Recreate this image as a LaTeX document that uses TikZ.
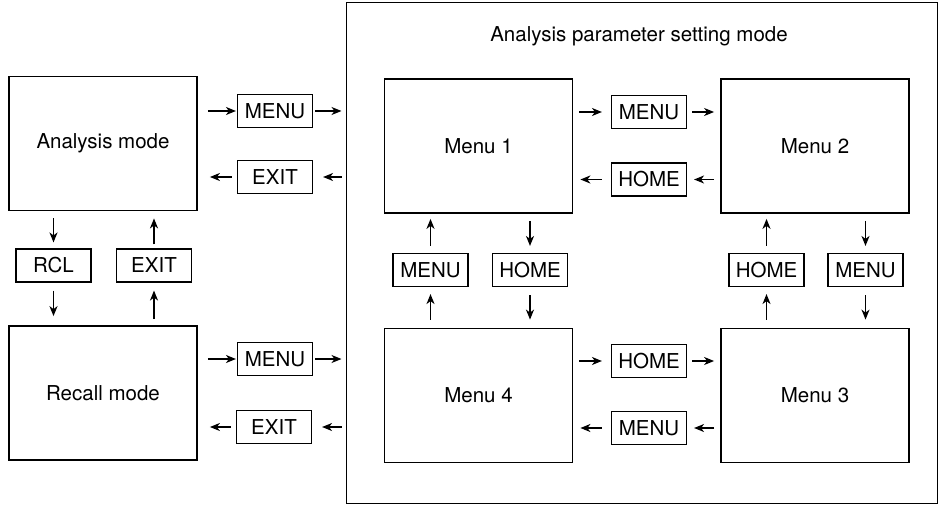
\documentclass[tikz,border=0pt]{standalone}
\usepackage{fontspec}
\setmainfont{TeX Gyre Heros}
\usetikzlibrary{arrows.meta}
\begin{document}
\begin{tikzpicture}[x=1pt,y=-1pt,
 font=\fontsize{20.5}{24}\selectfont,
 bigbox/.style={draw, line width=1.8pt, minimum width=188pt, minimum height=134pt, inner sep=0pt},
 keybox/.style={draw, line width=1.1pt, minimum width=75pt, minimum height=33pt, inner sep=0pt},
 frame/.style={draw, line width=1pt, minimum width=591pt, minimum height=500pt, inner sep=0pt},
 arr/.style={line width=1.3pt, -{Stealth[length=10pt,width=8pt,inset=3pt]}}
]
\useasboundingbox (0,0) rectangle (939,505);
% frame
\node[frame] (frame) at (641.5,253) {};
\node (title) at (639,36) {Analysis parameter setting mode};
% big boxes
\node[bigbox] (am) at (103,143.5) {Analysis mode};
\node[bigbox] (rm) at (103,393) {Recall mode};
\node[bigbox] (m1) at (478.5,146) {Menu 1};
\node[bigbox] (m2) at (815,146) {Menu 2};
\node[bigbox] (m4) at (478.5,395.5) {Menu 4};
\node[bigbox] (m3) at (815,395.5) {Menu 3};
% key boxes, left column
\node[keybox] (kMa) at (275,111) {MENU};
\node[keybox] (kEa) at (275,177) {EXIT};
\node[keybox] (kR) at (53.5,265.5) {RCL};
\node[keybox] (kEb) at (154,265.5) {EXIT};
\node[keybox] (kMb) at (275,359) {MENU};
\node[keybox] (kEc) at (274,427) {EXIT};
% key boxes, menus
\node[keybox] (kMm) at (649,112) {MENU};
\node[keybox] (kHm) at (649,179.5) {HOME};
\node[keybox] (kM1) at (430.5,270) {MENU};
\node[keybox] (kH1) at (530,270) {HOME};
\node[keybox] (kH2) at (766.5,270) {HOME};
\node[keybox] (kM2) at (865.5,270) {MENU};
\node[keybox] (kHb) at (649,361) {HOME};
\node[keybox] (kMc) at (649,428) {MENU};
% left column arrows
\draw[arr, shorten <=10pt, shorten >=1pt] (am.east |- kMa) -- (kMa.west);
\draw[arr, shorten <=2pt, shorten >=4pt] (kMa.east) -- (kMa -| frame.west);
\draw[arr, shorten <=4pt, shorten >=10pt] (kEa -| frame.west) -- (kEa.east);
\draw[arr, shorten <=5pt, shorten >=12pt] (kEa.west) -- (kEa -| am.east);
\draw[arr, shorten <=10pt, shorten >=1pt] (rm.east |- kMb) -- (kMb.west);
\draw[arr, shorten <=2pt, shorten >=4pt] (kMb.east) -- (kMb -| frame.west);
\draw[arr, shorten <=4pt, shorten >=10pt] (kEc -| frame.west) -- (kEc.east);
\draw[arr, shorten <=5pt, shorten >=12pt] (kEc.west) -- (kEc -| rm.east);
\draw[arr, shorten <=7pt, shorten >=6pt] (kR |- am.south) -- (kR.north);
\draw[arr, shorten <=8pt, shorten >=9pt] (kR.south) -- (kR |- rm.north);
\draw[arr, shorten <=6pt, shorten >=8pt] (kEb |- rm.north) -- (kEb.south);
\draw[arr, shorten <=4pt, shorten >=7pt] (kEb.north) -- (kEb |- am.south);
% middle column arrows
\draw[arr, shorten <=6pt, shorten >=9pt] (m1.east |- kMm) -- (kMm.west);
\draw[arr, shorten <=5pt, shorten >=6pt] (kMm.east) -- (kMm -| m2.west);
\draw[arr, shorten <=6pt, shorten >=7pt] (kHm -| m2.west) -- (kHm.east);
\draw[arr, shorten <=9pt, shorten >=7pt] (kHm.west) -- (kHm -| m1.east);
\draw[arr, shorten <=6pt, shorten >=9pt] (m4.east |- kHb) -- (kHb.west);
\draw[arr, shorten <=5pt, shorten >=6pt] (kHb.east) -- (kHb -| m3.west);
\draw[arr, shorten <=6pt, shorten >=7pt] (kMc -| m3.west) -- (kMc.east);
\draw[arr, shorten <=9pt, shorten >=7pt] (kMc.west) -- (kMc -| m4.east);
% vertical arrows under menus
\draw[arr, shorten <=7pt, shorten >=5pt] (kM1.north) -- (kM1 |- m1.south);
\draw[arr, shorten <=8pt, shorten >=7pt] (kM1 |- m4.north) -- (kM1.south);
\draw[arr, shorten <=7pt, shorten >=7pt] (kH1 |- m1.south) -- (kH1.north);
\draw[arr, shorten <=8pt, shorten >=8pt] (kH1.south) -- (kH1 |- m4.north);
\draw[arr, shorten <=7pt, shorten >=5pt] (kH2.north) -- (kH2 |- m2.south);
\draw[arr, shorten <=8pt, shorten >=7pt] (kH2 |- m3.north) -- (kH2.south);
\draw[arr, shorten <=7pt, shorten >=7pt] (kM2 |- m2.south) -- (kM2.north);
\draw[arr, shorten <=8pt, shorten >=8pt] (kM2.south) -- (kM2 |- m3.north);
\end{tikzpicture}
\end{document}
